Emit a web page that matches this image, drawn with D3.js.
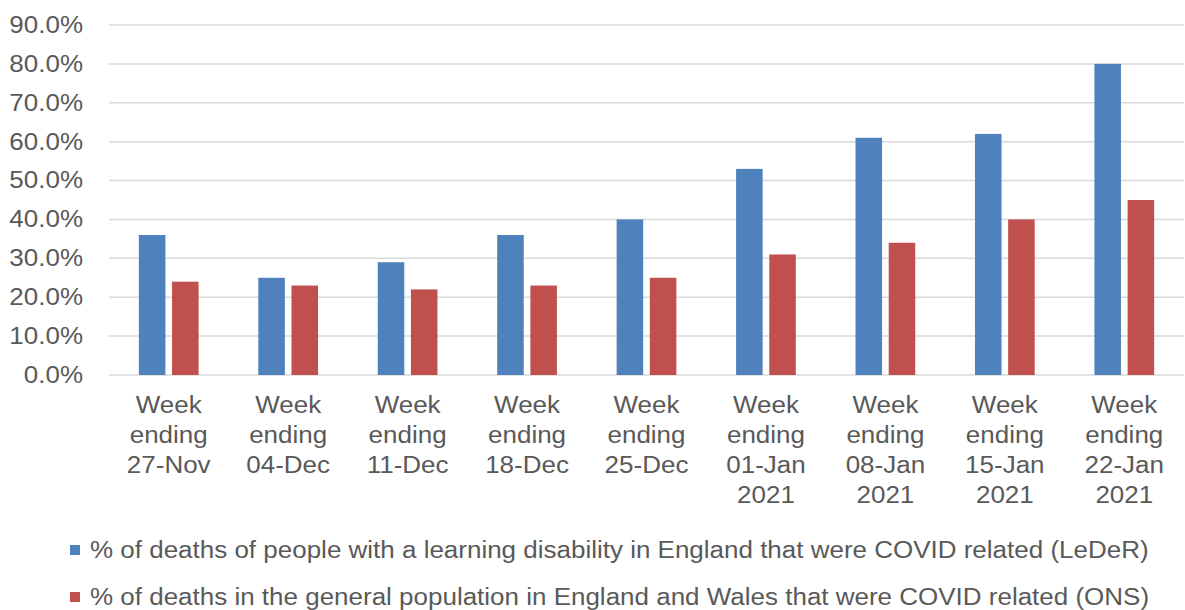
<!DOCTYPE html>
<html>
<head>
<meta charset="utf-8">
<script src="https://cdn.jsdelivr.net/npm/d3@7"></script>
<style>
  body { margin: 0; background: #fff; }
  text { font-family: "Liberation Sans", Arial, sans-serif; fill: #595959; }
</style>
</head>
<body>
<script>
// categories (each one split over several lines)
var weeks = [
  ["Week", "ending", "27-Nov"],
  ["Week", "ending", "04-Dec"],
  ["Week", "ending", "11-Dec"],
  ["Week", "ending", "18-Dec"],
  ["Week", "ending", "25-Dec"],
  ["Week", "ending", "01-Jan", "2021"],
  ["Week", "ending", "08-Jan", "2021"],
  ["Week", "ending", "15-Jan", "2021"],
  ["Week", "ending", "22-Jan", "2021"]
];
var leder = [36, 25, 29, 36, 40, 53, 61, 62, 80];
var ons = [24, 23, 22, 23, 25, 31, 34, 40, 45];
var seriesNames = [
  "% of deaths of people with a learning disability in England that were COVID related (LeDeR)",
  "% of deaths in the general population in England and Wales that were COVID related (ONS)"
];
var colors = ["#4f81bd", "#c0504d"];
var yTicks = [0, 10, 20, 30, 40, 50, 60, 70, 80, 90];

var W = 1185, H = 610;
var margin = {top: 25, right: 1, bottom: 235, left: 109},
    width = W - margin.left - margin.right,
    height = H - margin.top - margin.bottom;

// the text in the picture is a bit stretched sideways
var fs = "23px", stretch = "scale(1.13,1)";

var svg = d3.select("body").append("svg")
    .attr("width", W)
    .attr("height", H);

var g = svg.append("g")
    .attr("transform", "translate(" + margin.left + "," + margin.top + ")");

var keys = weeks.map(function(d, i) { return i; });

var x = d3.scaleBand().domain(keys).range([0, width]).paddingInner(0.5).paddingOuter(0.25);
var x1 = d3.scaleBand().domain([0, 1]).range([0, x.bandwidth()]).paddingInner(0.2);
var y = d3.scaleLinear().domain([0, 90]).range([height, 0]);

// gridlines
g.selectAll(".grid").data(yTicks).enter().append("line")
    .attr("x1", 0).attr("x2", width)
    .attr("y1", function(d) { return y(d); })
    .attr("y2", function(d) { return y(d); })
    .attr("stroke", "#d9d9d9")
    .attr("stroke-width", 1.5);

// y labels
var yAxis = g.append("g")
    .call(d3.axisLeft(y).tickValues(yTicks).tickSize(0).tickPadding(23)
      .tickFormat(function(d) { return d.toFixed(1) + "%"; }));
yAxis.select(".domain").remove();
yAxis.selectAll("text")
    .style("font-size", fs)
    .attr("fill", "#595959")
    .attr("transform", stretch);

// bars
var groups = g.selectAll(".grp").data(keys).enter().append("g")
    .attr("transform", function(d) { return "translate(" + x(d) + ",0)"; });

groups.selectAll("rect")
    .data(function(i) { return [leder[i], ons[i]]; })
    .enter().append("rect")
    .attr("x", function(d, j) { return x1(j); })
    .attr("width", x1.bandwidth())
    .attr("y", function(d) { return y(d); })
    .attr("height", function(d) { return height - y(d); })
    .attr("fill", function(d, j) { return colors[j]; });

// x labels
var xl = g.selectAll(".xl").data(keys).enter().append("text")
    .attr("text-anchor", "middle")
    .style("font-size", fs)
    .attr("transform", function(d) {
      return "translate(" + (x(d) + x.bandwidth() / 2) + "," + (height + 38) + ") " + stretch;
    });
xl.selectAll("tspan")
    .data(function(i) { return weeks[i]; })
    .enter().append("tspan")
    .attr("x", 0)
    .attr("y", function(d, j) { return j * 30; })
    .text(function(d) { return d; });

// legend
var leg = svg.selectAll(".leg").data(seriesNames).enter().append("g")
    .attr("transform", function(d, i) { return "translate(70," + (550 + i * 47) + ")"; });
leg.append("rect")
    .attr("x", 0).attr("y", -5).attr("width", 10).attr("height", 10)
    .attr("fill", function(d, i) { return colors[i]; });
leg.append("text")
    .attr("transform", "translate(20,8) " + stretch)
    .style("font-size", fs)
    .text(function(d) { return d; });
</script>
</body>
</html>
